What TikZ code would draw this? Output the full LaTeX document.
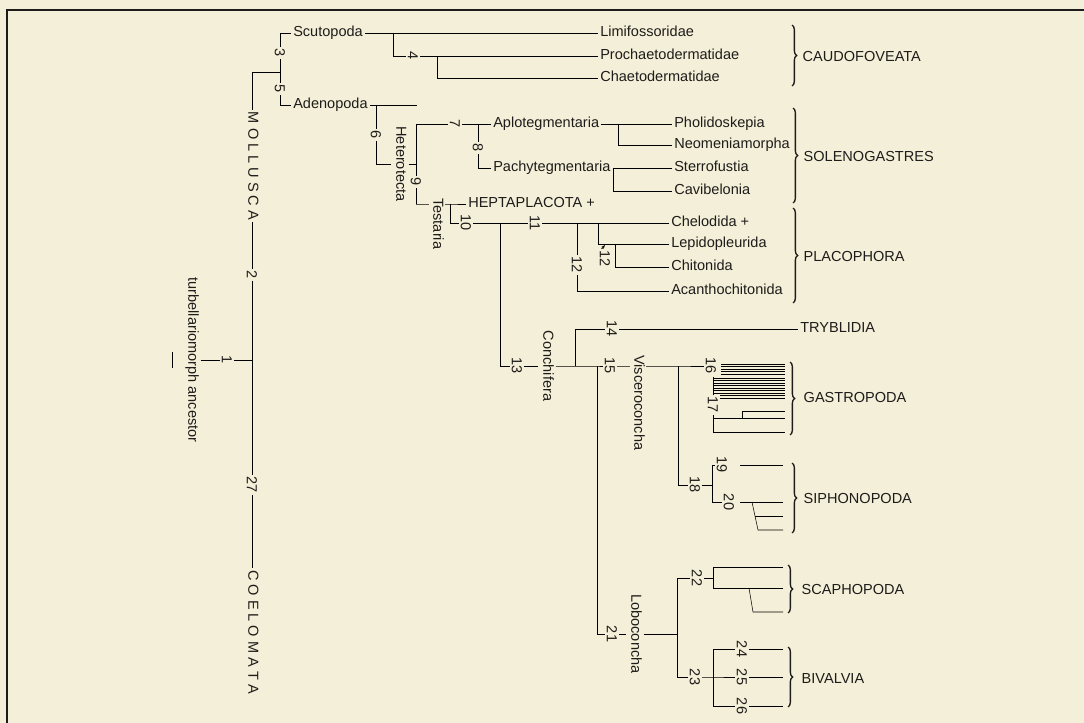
\documentclass[tikz,border=0pt]{standalone}
\usepackage{fontspec}
\setmainfont{Liberation Sans}
\usetikzlibrary{positioning, arrows.meta, decorations.pathreplacing, backgrounds}
\definecolor{paper}{RGB}{244,239,216}
\definecolor{ink}{RGB}{30,28,26}
\newcommand\labfont{\fontsize{10.9}{12}\selectfont}

\begin{document}
\begin{tikzpicture}[x=0.75pt, y=-0.75pt,
    taxon/.style={font=\labfont, text=ink, fill=paper, inner sep=1.5pt,
                  text height=7.5pt, text depth=2pt, anchor=west},
    vtaxon/.style={font=\labfont, text=ink, fill=paper, inner sep=1.5pt,
                   text height=7.5pt, text depth=2pt, rotate=-90},
    num/.style={font=\labfont, text=ink, fill=paper, inner sep=1.2pt,
                text height=7.6pt, text depth=0pt, rotate=-90},
    grp/.style={font=\labfont, text=ink, anchor=west},
    curly/.style={draw=ink, line width=1pt, decorate,
                  decoration={brace, amplitude=3.5pt}}]
  \useasboundingbox (0,0) rectangle (1084,723);
  \begin{scope}[on background layer]
    \fill[paper] (0,0) rectangle (1084,723);
  \end{scope}
  \draw[ink, line width=1.9pt] (7,723) -- (7,10) -- (1084,10);

  % stem
  \coordinate (roott) at (172,352);
  \coordinate (rootb) at (172,368);
  \node[vtaxon] (anc) at (192,360) {turbellariomorph ancestor};
  \node[num] (n1) at (227,360) {1};
  \coordinate (j1) at (252,360);
  \coordinate (jm) at (252,72);
  \coordinate (j35) at (280,72);
  \node[vtaxon] (moll) at (252,166) {M O L L U S C A};
  \node[num] (n2) at (252,275) {2};
  \node[num] (n27) at (252,485) {27};
  \node[vtaxon] (coel) at (252,632) {C O E L O M A T A};

  % Scutopoda / Adenopoda
  \node[num] (n3) at (280,53) {3};
  \node[num] (n5) at (280,89) {5};
  \node[taxon] (scut) at (291,33) {Scutopoda};
  \node[taxon] (aden) at (291,105) {Adenopoda};
  \node[taxon] (limi) at (598,33) {Limifossoridae};
  \node[taxon] (proch) at (598,56) {Prochaetodermatidae};
  \node[taxon] (chaet) at (598,78) {Chaetodermatidae};
  \coordinate (j4) at (393,33);
  \node[num] (n4) at (413,56) {4};
  \coordinate (j4b) at (437,56);
  \coordinate (adenend) at (417,105);

  % Heterotecta
  \coordinate (j6) at (376,105);
  \node[num] (n6) at (376,135) {6};
  \node[vtaxon] (hetero) at (400,164) {Heterotecta};
  \coordinate (j9t) at (416,124);
  \coordinate (j9m) at (416,164);
  \node[num] (n9) at (416,182) {9};
  \coordinate (j9b) at (416,204);
  \node[num] (n7) at (455,124) {7};
  \coordinate (j8) at (478,124);
  \node[num] (n8) at (478,148) {8};
  \node[taxon] (aplo) at (491,124) {Aplotegmentaria};
  \node[taxon] (pachy) at (491,168) {Pachytegmentaria};
  \coordinate (japlo) at (618,124);
  \coordinate (jpachy) at (613,168);
  \node[taxon] (phol) at (672,124) {Pholidoskepia};
  \node[taxon] (neom) at (672,145) {Neomeniamorpha};
  \node[taxon] (sterr) at (672,168) {Sterrofustia};
  \node[taxon] (cavib) at (672,191) {Cavibelonia};

  % Testaria
  \node[vtaxon, anchor=west] (testa) at (437,196) {Testaria};
  \coordinate (jT) at (450,204);
  \node[taxon] (hepta) at (466,204) {HEPTAPLACOTA +};
  \coordinate (j10) at (450,223);
  \node[num] (n10) at (466,223) {10};
  \node[num] (n11) at (535,223) {11};
  \coordinate (j13t) at (500,223);
  \coordinate (j12a) at (577,223);
  \node[num] (n12a) at (577,265) {12};
  \coordinate (j12b) at (598,223);
  \coordinate (j12c) at (615,244);
  \node[num] (n12b) at (605,259) {12};
  \coordinate (a12s) at (600,251);
  \coordinate (a12e) at (605,245);
  \node[taxon] (chelo) at (669,223) {Chelodida +};
  \node[taxon] (lepi) at (669,244) {Lepidopleurida};
  \node[taxon] (chit) at (669,267) {Chitonida};
  \node[taxon] (acan) at (669,291) {Acanthochitonida};

  % Conchifera
  \node[num] (n13) at (517,366) {13};
  \node[vtaxon] (conch) at (547,366) {Conchifera};
  \coordinate (j14) at (575,366);
  \node[num] (n14) at (612,329) {14};
  \node[taxon] (trybl) at (798,329) {TRYBLIDIA};
  \coordinate (j15) at (597,366);
  \node[num] (n15) at (610,366) {15};
  \node[vtaxon, anchor=west] (visc) at (638,353) {Visceroconcha};
  \coordinate (j18) at (678,366);
  \node[num] (n16) at (711,366) {16};
  \coordinate (j17t) at (713,377);
  \node[num] (n17) at (713,405) {17};
  \coordinate (j17b) at (713,432);
  \coordinate (j17m) at (713,418);
  \coordinate (j17s) at (742,418);
  \coordinate (e17a) at (785,411);
  \coordinate (e17b) at (785,418);
  \coordinate (e17c) at (785,432);

  % Siphonopoda
  \node[num] (n18) at (695,485) {18};
  \coordinate (j1920) at (712,485);
  \node[num] (n19) at (722,465) {19};
  \node[num] (n20) at (729,502) {20};
  \coordinate (s19) at (740,465);
  \coordinate (e19) at (783,465);
  \coordinate (s20) at (740,502);
  \coordinate (e20) at (783,502);
  \coordinate (k20) at (752,502);
  \coordinate (k20m) at (755,516);
  \coordinate (k20b) at (758,530);
  \coordinate (e20m) at (783,516);
  \coordinate (e20b) at (783,530);

  % Loboconcha
  \node[num] (n21) at (612,634) {21};
  \node[vtaxon] (lobo) at (635,634) {Loboconcha};
  \coordinate (j2223) at (677,634);
  \node[num] (n22) at (697,578) {22};
  \coordinate (j22) at (713,578);
  \coordinate (j22t) at (713,567);
  \coordinate (j22b) at (713,588);
  \coordinate (e22t) at (783,567);
  \coordinate (e22b) at (783,588);
  \coordinate (k22) at (749,588);
  \coordinate (k22b) at (753,612);
  \coordinate (e22c) at (783,612);
  \node[num] (n23) at (695,677) {23};
  \coordinate (j23) at (713,677);
  \node[num] (n24) at (742,649) {24};
  \node[num] (n25) at (742,677) {25};
  \node[num] (n26) at (742,706) {26};
  \coordinate (e24) at (783,649);
  \coordinate (e25) at (783,677);
  \coordinate (e26) at (783,706);

  % groups
  \node[grp] (caudo) at (798,57) {CAUDOFOVEATA};
  \node[grp] (soleno) at (799,156) {SOLENOGASTRES};
  \node[grp] (placo) at (799,256) {PLACOPHORA};
  \node[grp] (gastro) at (799,397) {GASTROPODA};
  \node[grp] (sipho) at (799,498) {SIPHONOPODA};
  \node[grp] (scapho) at (797,589) {SCAPHOPODA};
  \node[grp] (bival) at (797,678) {BIVALVIA};
  \draw[curly] (792,25) -- (792,86);
  \draw[curly] (793,108) -- (793,203);
  \draw[curly] (793,208) -- (793,303);
  \draw[curly] (790,362) -- (790,435);
  \draw[curly] (792,463) -- (792,533);
  \draw[curly] (788,565) -- (788,613);
  \draw[curly] (788,647) -- (788,707);

  \begin{scope}[on background layer, draw=ink, line width=1.35pt]
    \draw (roott) -- (rootb);
    \draw (anc) -- (n1) -- (j1);
    \draw (jm) -- (moll) -- (n2) -- (n27) -- (coel);
    \draw (jm) -- (j35);
    \draw (scut) -| (n3) -- (n5) |- (aden);
    \draw (scut) -- (limi);
    \draw (j4) |- (n4) -- (proch);
    \draw (j4b) |- (chaet);
    \draw (aden) -- (adenend);
    \draw (j6) -- (n6) |- (hetero);
    \draw (hetero) -- (j9m);
    \draw (j9t) -- (n9) -- (j9b);
    \draw (j9t) -- (n7) -- (aplo);
    \draw (j8) -- (n8) |- (pachy);
    \draw (aplo) -- (phol);
    \draw (japlo) |- (neom);
    \draw (pachy) -- (sterr);
    \draw (jpachy) |- (cavib);
    \draw (j9b) -- (jT) -- (hepta);
    \draw (jT) -- (j10) -- (n10) -- (n11) -- (chelo);
    \draw (j12a) -- (n12a) |- (acan);
    \draw (j12b) |- (lepi);
    \draw (j12c) |- (chit);
    \draw[-{Stealth[length=3pt]}, line width=0.7pt] (a12s) -- (a12e);
    \draw (j13t) |- (n13);
    \draw (n13) -- (conch) -- (j15) -- (n15);
    \draw (j14) |- (n14) -- (trybl);
    \draw (n15) -- (j18) -- (n16);
    \draw (j15) |- (n21);
    \draw (j18) |- (n18);
    % gastropod radiation
    \foreach \y in {364,366.5,...,374.5}
      \draw[line width=0.7pt] (721,\y) -- (785,\y);
    \foreach \y in {378,380.5,...,398.5}
      \draw[line width=0.7pt] (713,\y) -- (785,\y);
    \draw (j17t) -- (n17) -- (j17b) -- (e17c);
    \draw (j17m) -- (e17b);
    \draw (j17s) |- (e17a);
    % siphonopods
    \draw (n18) -- (j1920);
    \draw (n19) -| (j1920) |- (n20);
    \draw (s19) -- (e19);
    \draw (s20) -- (e20);
    \draw (k20) -- (k20b) -- (e20b);
    \draw (k20m) -- (e20m);
    % loboconchs
    \draw (n21) -- (lobo) -- (j2223);
    \draw (n22) -| (j2223) |- (n23);
    \draw (n22) -- (j22);
    \draw (j22t) -- (j22b);
    \draw (j22t) -- (e22t);
    \draw (j22b) -- (e22b);
    \draw (k22) -- (k22b) -- (e22c);
    \draw (n23) -- (j23) -- (n25) -- (e25);
    \draw (n24) -| (j23) |- (n26);
    \draw (n24) -- (e24);
    \draw (n26) -- (e26);
  \end{scope}
\end{tikzpicture}
\end{document}
